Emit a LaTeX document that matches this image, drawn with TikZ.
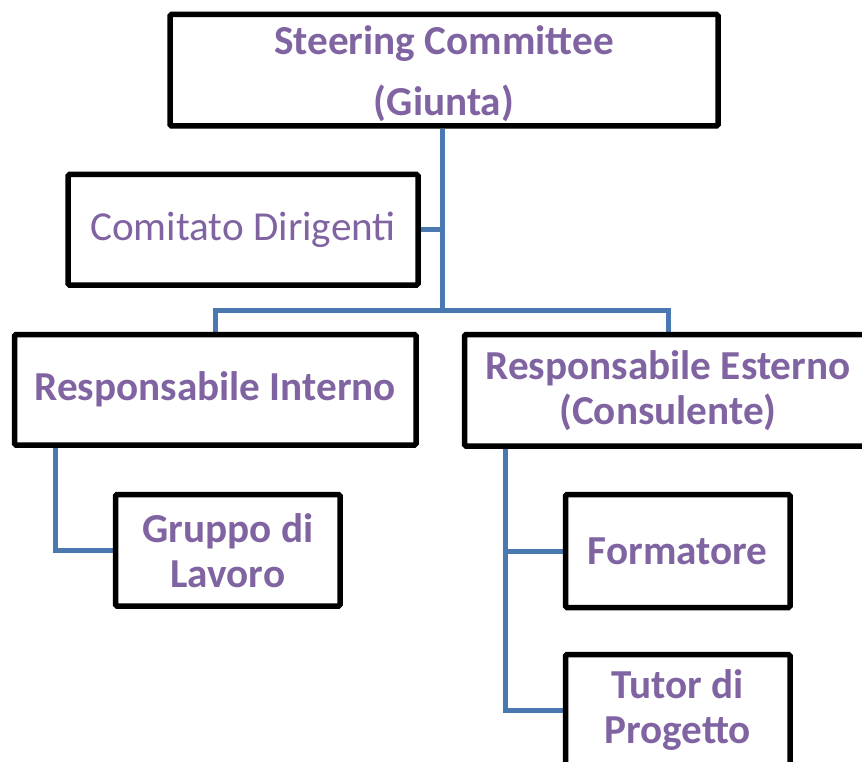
\documentclass[tikz,border=0pt]{standalone}
\usepackage{fontspec}
\setmainfont{Carlito}
\usetikzlibrary{backgrounds}
\definecolor{txtpurple}{HTML}{8064A2}
\definecolor{linkblue}{HTML}{4A78B0}
\begin{document}
\begin{tikzpicture}[x=1pt,y=-1pt,
  orgbox/.style={draw=black,line width=5.5pt,rounded corners=1.5pt,fill=white,
    text=txtpurple,align=center,inner sep=0pt,
    font=\fontsize{41.2}{45}\selectfont\bfseries},
  link/.style={draw=linkblue,line width=5pt}]
\path[use as bounding box,clip] (0,0) rectangle (862,762);
\node[orgbox,minimum width=548pt,minimum height=111.5pt,text depth=0pt] (sc) at (444,70.25)
  {\raisebox{-0.5pt}{\shortstack{Steering Committee\\[20pt](Giunta)}}};
\node[orgbox,minimum width=350pt,minimum height=110.5pt,font=\fontsize{41.2}{45}\selectfont] (cd) at (243,229.75)
  {Comitato Dirigenti};
\node[orgbox,minimum width=401.5pt,minimum height=110.5pt] (ri) at (215.25,389.75)
  {Responsabile Interno};
\node[orgbox,minimum width=407pt,minimum height=111.5pt] (re) at (668,390.25)
  {Responsabile Esterno\\(Consulente)};
\node[orgbox,minimum width=224.5pt,minimum height=111.5pt] (gl) at (227.75,550.25)
  {Gruppo di\\Lavoro};
\node[orgbox,minimum width=224.5pt,minimum height=113pt] (fo) at (677.75,551)
  {Formatore};
\node[orgbox,minimum width=224.5pt,minimum height=111.5pt] (tp) at (677.75,710.25)
  {Tutor di\\Progetto};
\coordinate (jt) at (442,310);
\coordinate (lb) at (55,445);
\coordinate (rb) at (505,445);
\begin{pgfonlayer}{background}
\fill[white] (0,0) rectangle (862,762);
\draw[link] (sc.south -| jt) -- (jt);
\draw[link] (cd.east) -- (cd.east -| jt);
\draw[link] (ri.north) |- (jt) -| (re.north);
\draw[link] (ri.south -| lb) |- (gl.west);
\draw[link] (re.south -| rb) |- (fo.west);
\draw[link] (re.south -| rb) |- (tp.west);
\end{pgfonlayer}
\end{tikzpicture}
\end{document}
